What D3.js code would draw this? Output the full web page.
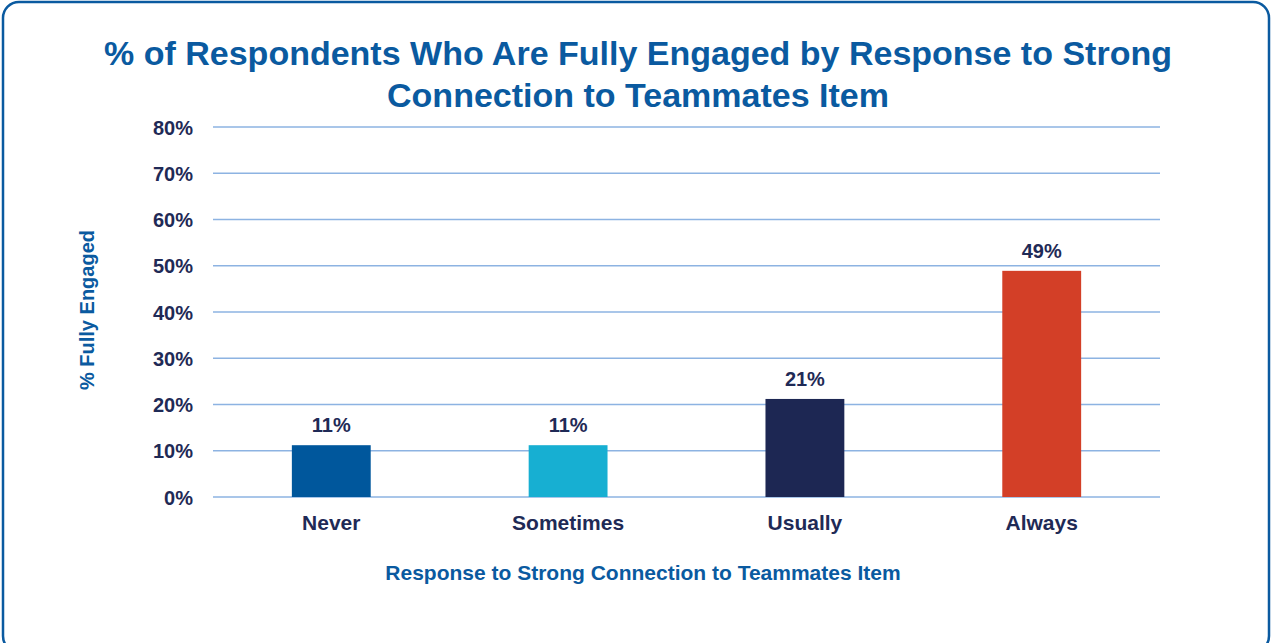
<html>
<head>
<style>
  body { margin: 0; background: #fff; font-family: "Liberation Sans", Arial, Helvetica, sans-serif; }
  .grid line { stroke: #8db3e2; stroke-width: 1.5px; }
  .tick text { font-weight: bold; fill: #1f2a56; }
</style>
</head>
<body>
<script src="https://cdn.jsdelivr.net/npm/d3@7"></script>
<script>
var categories = ["Never", "Sometimes", "Usually", "Always"];
var values = [11.2, 11.2, 21.2, 48.9];
var valueLabels = ["11%", "11%", "21%", "49%"];
var barColors = ["#00579c", "#17afd2", "#1d2753", "#d33f27"];
var yTicks = [0, 10, 20, 30, 40, 50, 60, 70, 80];

var width = 1273, height = 643;
var plotLeft = 213, plotRight = 1160, plotTop = 127, plotBottom = 497;

var svg = d3.select("body").append("svg")
  .attr("width", width)
  .attr("height", height);

// card border
svg.append("rect")
  .attr("x", 3).attr("y", 2)
  .attr("width", 1266).attr("height", 650)
  .attr("rx", 16)
  .attr("fill", "#fff")
  .attr("stroke", "#0a5aa0")
  .attr("stroke-width", 2.5);

// title
var title = svg.append("text")
  .attr("text-anchor", "middle")
  .attr("fill", "#0a5aa0")
  .attr("font-weight", "bold")
  .attr("font-size", 34);
title.append("tspan").attr("x", 638).attr("y", 65)
  .text("% of Respondents Who Are Fully Engaged by Response to Strong");
title.append("tspan").attr("x", 638).attr("y", 107)
  .text("Connection to Teammates Item");

var x = d3.scaleBand().domain(categories).range([plotLeft, plotRight]).paddingInner(0.667).paddingOuter(0.333);
var y = d3.scaleLinear().domain([0, 80]).range([plotBottom, plotTop]);

// gridlines
svg.append("g")
  .attr("class", "grid")
  .selectAll("line")
  .data(yTicks)
  .join("line")
  .attr("x1", plotLeft).attr("x2", plotRight)
  .attr("y1", d => y(d)).attr("y2", d => y(d));

// y axis labels
var yAxis = svg.append("g")
  .attr("transform", "translate(" + (plotLeft - 20) + ",0)")
  .call(d3.axisLeft(y).tickValues(yTicks).tickFormat(d => d + "%").tickSize(0).tickPadding(0));
yAxis.select(".domain").remove();
yAxis.selectAll("text").attr("font-size", 20).attr("font-family", "Liberation Sans, Arial, sans-serif").attr("dy", "0.35em");

// bars
svg.append("g")
  .selectAll("rect")
  .data(categories)
  .join("rect")
  .attr("x", d => x(d))
  .attr("width", x.bandwidth())
  .attr("y", (d, i) => y(values[i]))
  .attr("height", (d, i) => y(0) - y(values[i]))
  .attr("fill", (d, i) => barColors[i]);

// value labels
svg.append("g")
  .selectAll("text")
  .data(categories)
  .join("text")
  .attr("x", d => x(d) + x.bandwidth() / 2)
  .attr("y", (d, i) => y(values[i]) - 13)
  .attr("text-anchor", "middle")
  .attr("font-weight", "bold")
  .attr("font-size", 20)
  .attr("fill", "#1f2a56")
  .text((d, i) => valueLabels[i]);

// x axis labels
var xAxis = svg.append("g")
  .attr("transform", "translate(0," + plotBottom + ")")
  .call(d3.axisBottom(x).tickSize(0).tickPadding(18));
xAxis.select(".domain").remove();
xAxis.selectAll("text").attr("font-size", 21).attr("font-family", "Liberation Sans, Arial, sans-serif");

// axis titles
svg.append("text")
  .attr("x", 643).attr("y", 580)
  .attr("text-anchor", "middle")
  .attr("fill", "#0a5aa0")
  .attr("font-weight", "bold")
  .attr("font-size", 21)
  .text("Response to Strong Connection to Teammates Item");

svg.append("text")
  .attr("transform", "translate(94,310) rotate(-90)")
  .attr("text-anchor", "middle")
  .attr("fill", "#0a5aa0")
  .attr("font-weight", "bold")
  .attr("font-size", 20)
  .text("% Fully Engaged");
</script>
</body>
</html>
